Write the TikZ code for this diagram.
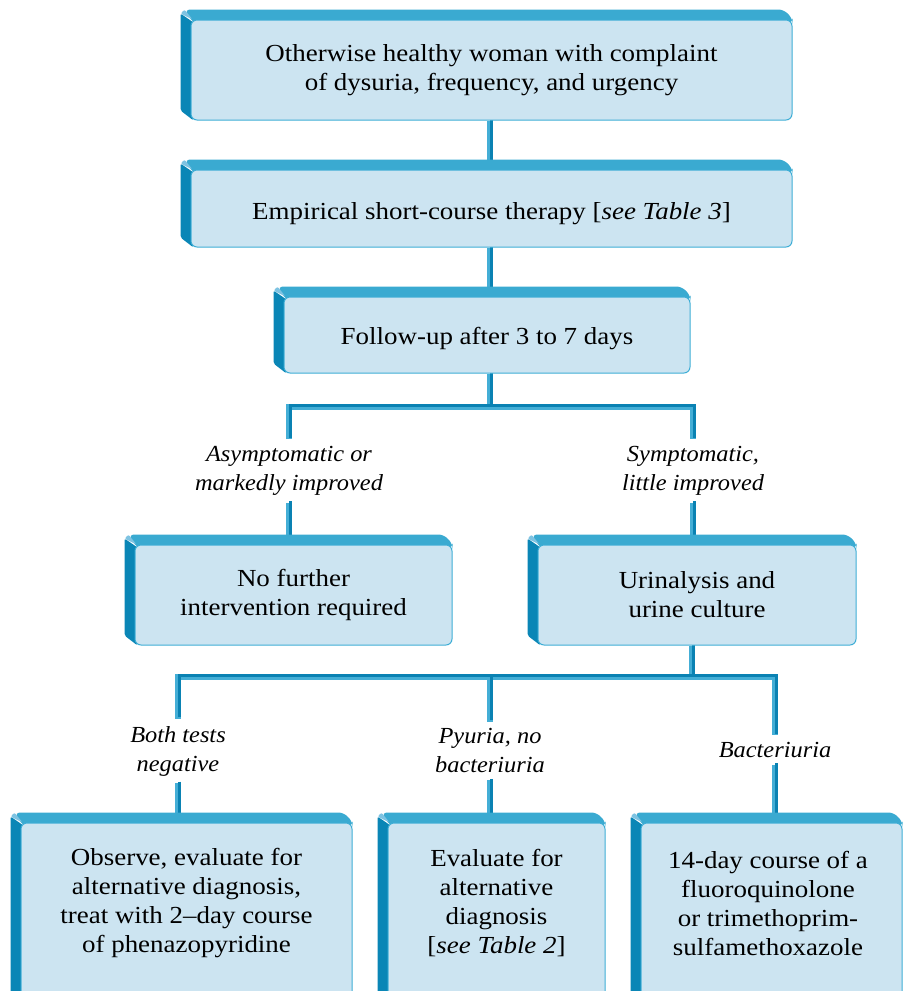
\documentclass[tikz,border=0pt]{standalone}
\usepackage{fontspec}
\setmainfont{Liberation Serif}[FakeStretch=1.1]
\newfontfamily\condfont{Liberation Serif}[FakeStretch=1.06]
\usepackage{tikz}
\usetikzlibrary{positioning, backgrounds, calc}

\definecolor{facefill}{HTML}{CCE4F1}
\definecolor{rimblue}{HTML}{3FAED6}
\definecolor{topblue}{HTML}{3AAAD1}
\definecolor{sideblue}{HTML}{0A86B6}
\definecolor{cornerblue}{HTML}{7EC3E2}
\definecolor{wirelight}{HTML}{44AED6}
\definecolor{wiredark}{HTML}{0A82B3}

\pgfdeclarelayer{wires}
\pgfsetlayers{wires,background,main}

\tikzset{
  stepbox/.style={draw=rimblue, fill=facefill, rounded corners=6pt, line width=1pt,
    align=center, inner sep=0pt, font=\fontsize{24.5}{29}\selectfont},
  boxtext/.style={align=center, inner sep=0pt, font=\fontsize{24.5}{29}\selectfont},
  cond/.style={align=center, inner sep=7pt, font=\condfont\fontsize{23}{29}\selectfont\itshape},
  wire/.style={line width=6pt, draw=wirelight,
    postaction={draw=wiredark, line width=3pt, transform canvas={shift={(1.5pt,1.5pt)}}}}
}

% raised edge of a box, drawn behind its face
\newcommand{\bevel}[1]{%
  \begin{pgfonlayer}{background}
    \fill[sideblue, rounded corners=2pt]
      ($(#1.north west)+(-10pt,6pt)$) -- ($(#1.north west)+(3pt,-3pt)$)
      -- ($(#1.south west)+(3pt,0pt)$) -- ($(#1.south west)+(-10pt,10pt)$) -- cycle;
    \fill[topblue, rounded corners=5pt]
      ($(#1.north west)+(-6pt,10pt)$) -- ($(#1.north east)+(-9pt,10pt)$)
      -- ($(#1.north east)+(0pt,1pt)$) -- ($(#1.north east)+(0pt,-4pt)$)
      -- ($(#1.north west)+(3pt,-4pt)$) -- cycle;
    \fill[cornerblue, rounded corners=2pt]
      ($(#1.north west)+(-10pt,6pt)$) -- ($(#1.north west)+(-6pt,10pt)$)
      -- ($(#1.north west)+(2pt,0pt)$) -- cycle;
  \end{pgfonlayer}}

\begin{document}
\begin{tikzpicture}[x=1pt, y=-1pt]
\useasboundingbox (0,0) rectangle (904,991);

% ---- top chain ----
\node[stepbox, minimum width=601pt, minimum height=100pt] (b1) at (491.5,70)
  {Otherwise healthy woman with complaint\\of dysuria, frequency, and urgency};
\node[stepbox, minimum width=601pt, minimum height=77pt, text height=25pt, text depth=3pt]
  (b2) at (491.5,208.5) {Empirical short-course therapy [\textit{see Table 3}]};
\node[stepbox, minimum width=406pt, minimum height=76pt, text height=23pt, text depth=4pt]
  (b3) at (487,335) {Follow-up after 3 to 7 days};

% ---- second row ----
\node[stepbox, minimum width=317pt, minimum height=100pt] (b4) at (293.5,595)
  {No further\\intervention required};
\node[stepbox, minimum width=318pt, minimum height=100pt] (b5) at (697,595)
  {Urinalysis and\\urine culture};

% ---- bottom row (runs off the page) ----
\node[stepbox, minimum width=331pt, minimum height=190pt] (b6) at (186.5,918) {};
\node[stepbox, minimum width=217pt, minimum height=190pt] (b7) at (496.5,918) {};
\node[stepbox, minimum width=261pt, minimum height=190pt] (b8) at (771.5,918) {};
\node[boxtext] (t6) at (186.5,903)
  {Observe, evaluate for\\alternative diagnosis,\\treat with 2--day course\\of phenazopyridine};
\node[boxtext] (t7) at (496.5,903)
  {Evaluate for\\alternative\\diagnosis\\{[}\textit{see Table 2}{]}};
\node[boxtext] (t8) at (768,903)
  {14-day course of a\\fluoroquinolone\\or trimethoprim-\\sulfamethoxazole};

\foreach \b in {b1,b2,b3,b4,b5,b6,b7,b8} {\bevel{\b}}

% ---- branch labels ----
\node[cond] (c1) at (289,471) {Asymptomatic or\\markedly improved};
\node[cond] (c2) at (693,471) {Symptomatic,\\little improved};
\node[cond] (c3) at (178,751) {Both tests\\negative};
\node[cond] (c4) at (490,751) {Pyuria, no\\bacteriuria};
\node[cond] (c5) at (775,750) {Bacteriuria};

\coordinate (spine) at (490,0);
\coordinate (j1) at (490,407);
\coordinate (j2) at (692,677);

% ---- connectors ----
\begin{pgfonlayer}{wires}
  \draw[wire] (b1.south -| spine) -- (b2.north -| spine);
  \draw[wire] (b2.south -| spine) -- (b3.north -| spine);
  \draw[wire] (b3.south -| j1) -- (j1);
  \draw[wire] (c1.north) |- (j1) -| (c2.north);
  \draw[wire] (c1.south) -- (c1.south |- b4.north);
  \draw[wire] (c2.south) -- (c2.south |- b5.north);
  \draw[wire] (b5.south -| j2) -- (j2);
  \draw[wire] (c3.north) |- (j2) -| (c5.north);
  \draw[wire] (c4.north) -- (c4.north |- j2);
  \draw[wire] (c3.south) -- (c3.south |- b6.north);
  \draw[wire] (c4.south) -- (c4.south |- b7.north);
  \draw[wire] (c5.south) -- (c5.south |- b8.north);
\end{pgfonlayer}

\end{tikzpicture}
\end{document}
